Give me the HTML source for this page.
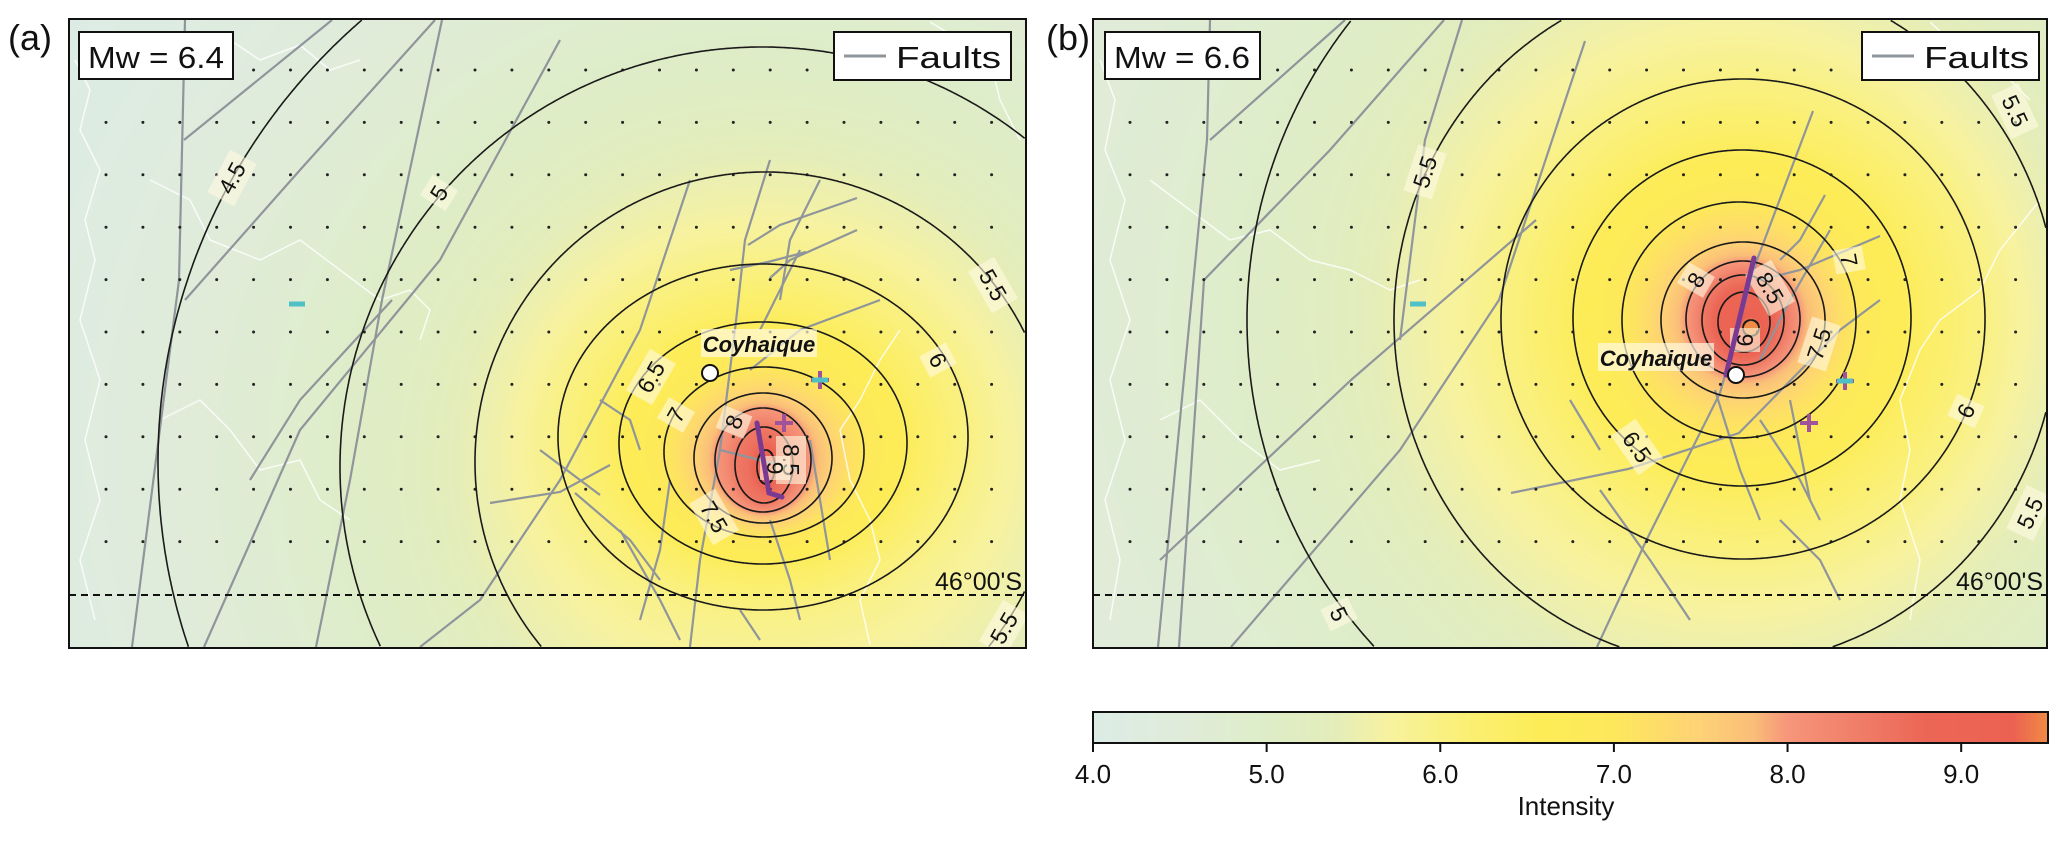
<!DOCTYPE html>
<html><head><meta charset="utf-8">
<style>
html,body{margin:0;padding:0;background:#fff;width:2067px;height:842px;overflow:hidden;}
#root{position:relative;width:2067px;height:842px;overflow:hidden;font-family:"Liberation Sans",sans-serif;}
canvas{position:absolute;display:block;}
svg{position:absolute;left:0;top:0;display:block;overflow:hidden;}
</style></head>
<body>
<div id="root">
<canvas id="cA" width="957" height="629" style="left:69px;top:19px"></canvas>
<canvas id="cB" width="954" height="629" style="left:1093px;top:19px"></canvas>
<canvas id="cbar" width="955" height="31" style="left:1093px;top:712px"></canvas>
<svg id="ov" width="2067" height="842"></svg>
</div>
<script>
// ---- data ----
const colorLevels = [4.0,4.5,5.0,5.4,5.7,6.2,6.6,7.0,7.5,7.8,8.0,8.4,8.8,9.3,9.5];
const colorRGB = [[220,236,230],[224,236,218],[222,237,200],[228,237,186],[247,242,160],[251,239,112],[253,236,86],[253,232,92],[254,210,118],[250,190,120],[246,150,122],[240,126,105],[236,102,86],[236,98,82],[240,138,69]];
const levelsA = [4.0,4.5,5.0,5.5,6.0,6.5,7.0,7.5,8.0,8.5,9.0];
const cxA = [762,762,762,765,763,763,764,763,763,764,766];
const cyA = [460,462,467,462,437,443,452,458,460,465,467];
const rxA = [850,604,422,290,205,144,100,69,48,29,9];
const ryA = [830,590,420,290,173,121,85,65,52,38,17];
const levelsB = [4.0,4.5,5.0,5.5,6.0,6.5,7.0,7.5,8.0,8.5,9.0,9.5];
const cxB = [1735,1735,1730,1726,1743,1742,1739,1743,1743,1743,1744,1751];
const cyB = [320,320,320,320,319,318,320,320,319,320,322,328];
const rxB = [1000,720,483,332,242,169,117,82,57,41,26,8];
const ryB = [980,710,483,345,240,168,118,78,58,45,30,8];
const cbarTicks = [4.0,5.0,6.0,7.0,8.0,9.0];
const cbarMin = 4.0, cbarMax = 9.5;

const NS='http://www.w3.org/2000/svg';
const ov=document.getElementById('ov');
function mk(tag,attrs,parent){const e=document.createElementNS(NS,tag);for(const k in attrs)e.setAttribute(k,attrs[k]);(parent||ov).appendChild(e);return e;}

function cmap(v){
  if(v<=colorLevels[0])return colorRGB[0];
  for(let i=1;i<colorLevels.length;i++){
    if(v<=colorLevels[i]){const t=(v-colorLevels[i-1])/(colorLevels[i]-colorLevels[i-1]);const a=colorRGB[i-1],b=colorRGB[i];return [a[0]+(b[0]-a[0])*t,a[1]+(b[1]-a[1])*t,a[2]+(b[2]-a[2])*t];}
  }
  return colorRGB[colorRGB.length-1];
}
function field(x,y,L,CX,CY,RX,RY){
  const n=L.length;const rho=[];
  for(let i=0;i<n;i++){const dx=(x-CX[i])/RX[i],dy=(y-CY[i])/RY[i];rho.push(Math.sqrt(dx*dx+dy*dy));}
  let k=-1;for(let i=0;i<n;i++){if(rho[i]<1)k=i;}
  if(k<0)return L[0];
  if(k===n-1)return L[k]+0.5*Math.min(1,1-rho[k]);
  const fi=1-rho[k],fo=rho[k+1]-1;
  return L[k]+(L[k+1]-L[k])*fi/(fi+fo);
}
function paint(id,x0,y0,L,CX,CY,RX,RY){
  const c=document.getElementById(id),ctx=c.getContext('2d');
  const W=c.width,H=c.height,img=ctx.createImageData(W,H);
  for(let j=0;j<H;j++)for(let i=0;i<W;i++){
    const v=field(x0+i,y0+j,L,CX,CY,RX,RY);const col=cmap(v);const p=(j*W+i)*4;
    img.data[p]=col[0];img.data[p+1]=col[1];img.data[p+2]=col[2];img.data[p+3]=255;}
  ctx.putImageData(img,0,0);
}
paint('cA',69,19,levelsA,cxA,cyA,rxA,ryA);
paint('cB',1093,19,levelsB,cxB,cyB,rxB,ryB);
(function(){const c=document.getElementById('cbar'),ctx=c.getContext('2d');
  for(let i=0;i<c.width;i++){const v=cbarMin+(cbarMax-cbarMin)*i/(c.width-1);const col=cmap(v);
    ctx.fillStyle='rgb('+col.map(Math.round).join(',')+')';ctx.fillRect(i,0,1,c.height);}})();

// ---- overlay ----
const defs=mk('defs',{});
const cpA=mk('clipPath',{id:'clipA'},defs);mk('rect',{x:69,y:19,width:957,height:629},cpA);
const cpB=mk('clipPath',{id:'clipB'},defs);mk('rect',{x:1093,y:19,width:954,height:629},cpB);
const boxA=[70,20,1025,647], boxB=[1094,20,2046,647];

const coastA=[
 [[75,60],[90,90],[80,130],[100,170],[85,220],[95,260],[80,320],[100,380],[85,440],[100,500],[80,560],[95,620]],
 [[150,180],[190,200],[210,240],[260,260],[300,240],[340,270],[380,300],[410,290],[430,310],[420,340]],
 [[160,420],[200,400],[230,430],[260,470],[300,460],[320,500],[350,520]],
 [[230,40],[260,60],[300,45],[330,70],[360,60]],
 [[930,22],[960,40],[990,60],[1000,100],[1020,140]],
 [[900,330],[880,360],[860,400],[840,430],[850,480],[870,520],[880,560],[860,600],[870,645]]
];
const coastB=[
 [[1100,60],[1115,100],[1105,150],[1125,200],[1110,260],[1130,320],[1110,380],[1125,440],[1105,500],[1120,560],[1110,620]],
 [[1150,180],[1190,210],[1230,240],[1270,230],[1310,260],[1350,270],[1390,290],[1420,280]],
 [[1160,420],[1200,400],[1240,440],[1280,470],[1320,460]],
 [[1930,22],[1960,50],[2000,70],[2030,100]],
 [[2040,200],[2000,250],[1980,290],[1940,320],[1920,350],[1900,400],[1910,450],[1900,500],[1920,560],[1910,620]]
];
function drawCoast(C,name){
  const g=mk('g',{});
  
  C.forEach(f=>{const p=mk('polyline',{points:f.map(q=>q.join(',')).join(' '),fill:'none',stroke:'rgba(255,255,255,0.8)','stroke-width':1.5},g);
    });
}
drawCoast(coastA,'coastlines-a');
drawCoast(coastB,'coastlines-b');

const faultsA=[
 [[185,20],[179,280],[132,647]],[[332,20],[184,140]],[[435,20],[300,170],[185,300]],
 [[442,20],[382,300],[350,480],[316,647]],[[560,40],[440,260],[300,430],[204,647]],
 [[392,300],[300,400],[250,480]],[[690,180],[640,330],[560,480],[480,600],[420,647]],
 [[770,160],[745,240],[735,330],[720,450],[700,560],[690,647]],
 [[820,180],[790,240],[780,300]],[[800,250],[775,300],[760,330]],
 [[806,252],[768,262],[730,270]],[[857,230],[790,260],[770,278]],
 [[857,198],[780,225],[748,245]],[[880,300],[800,330],[750,370]],
 [[540,450],[580,480],[600,495]],[[490,503],[560,492],[610,465]],
 [[670,480],[660,550],[640,620]],[[600,400],[630,420],[640,450]],
 [[770,520],[790,580],[800,620]],[[720,450],[760,460],[800,470]],
 [[810,440],[820,500],[830,560]],[[620,530],[660,600],[680,640]],
 [[575,493],[630,540],[660,580]],[[740,610],[760,640]]
];
const faultsB=[
 [[1210,20],[1207,140],[1158,647]],[[1345,20],[1210,140]],[[1462,20],[1425,140],[1400,340]],
 [[1444,20],[1330,150],[1204,280],[1179,647]],[[1585,41],[1499,300],[1400,450],[1231,647]],
 [[1536,220],[1351,380],[1160,560]],[[1813,111],[1757,260],[1720,393],[1646,541],[1597,647]],
 [[1825,195],[1800,240],[1780,260]],[[1880,236],[1800,270],[1760,280]],
 [[1830,230],[1790,300],[1760,360]],[[1511,493],[1628,469],[1739,433],[1840,330],[1880,300]],
 [[1715,390],[1740,470],[1760,520]],[[1760,420],[1800,480],[1820,520]],
 [[1570,400],[1600,450]],[[1600,490],[1650,560],[1690,620]],
 [[1790,400],[1800,450],[1810,500]],[[1780,520],[1820,560],[1840,600]]
];
function drawFaults(F,name){
  const g=mk('g',{});
  
  F.forEach(f=>{const p=mk('polyline',{points:f.map(q=>q.join(',')).join(' '),fill:'none',stroke:'#8f959b','stroke-width':2.2},g);
    });
}
drawFaults(faultsA,'faults-a');
drawFaults(faultsB,'faults-b');

function dots(x0,x1,name){
  const g=mk('g',{});
  
  for(let r=0;r<10;r++)for(let x=x0;x<x1;x+=36.9){mk('circle',{cx:x.toFixed(1),cy:(70+52.4*r).toFixed(1),r:1.5,fill:'#222'},g);}
}
dots(106,1024,'grid-points-a');
dots(1130,2045,'grid-points-b');

function contours(L,CX,CY,RX,RY,B,name){
  const g=mk('g',{});
  
  for(let i=1;i<L.length;i++){
    const segs=[];let cur=[];
    const N=1440;
    for(let k=0;k<=N;k++){
      const a=2*Math.PI*k/N;const x=CX[i]+RX[i]*Math.cos(a),y=CY[i]+RY[i]*Math.sin(a);
      if(x>=B[0]&&x<=B[2]&&y>=B[1]&&y<=B[3]){cur.push(x.toFixed(1)+','+y.toFixed(1));}
      else{if(cur.length>1)segs.push(cur);cur=[];}
    }
    if(cur.length>1)segs.push(cur);
    segs.forEach(s=>{const e=mk('polyline',{points:s.join(' '),fill:'none',stroke:'#1a1a1a','stroke-width':1.6},g);
      });
  }
}
contours(levelsA,cxA,cyA,rxA,ryA,boxA,'contours-a');
contours(levelsB,cxB,cyB,rxB,ryB,boxB,'contours-b');

[[69,1026],[1093,2047]].forEach(p=>{const l=mk('line',{x1:p[0],x2:p[1],y1:595,y2:595,stroke:'#111','stroke-width':2,'stroke-dasharray':'7,5'});
  });
[[1022],[2043]].forEach(p=>{const t=mk('text',{x:p[0],y:590,'text-anchor':'end','font-size':25,fill:'#111'});t.textContent="46°00'S";
  });

const labA=[['4.5',232,178,-62],['5',439,193,-58],['5.5',993,285,60],['6',938,360,62],['6.5',651,377,-60],['7',676,415,-60],['8',734,422,-68],['8.5',791,460,90],['9',775,468,90],['7.5',714,517,60],['5.5',1004,628,-60]];
const labB=[['5.5',1425,172,-72],['5.5',2015,111,65],['5.5',2030,513,-65],['5',1339,614,65],['6',1966,411,-65],['6.5',1637,447,55],['7',1849,260,80],['7.5',1819,344,-72],['8',1696,280,-60],['8.5',1770,288,60],['9',1745,340,90]];
function clabels(arr,clip){
  const g=mk('g',{'clip-path':'url(#'+clip+')'});
  arr.forEach(a=>{const gg=mk('g',{transform:'translate('+a[1]+','+a[2]+') rotate('+a[3]+')'},g);
    
    const w=a[0].length*12+12;
    mk('rect',{x:-w/2,y:-15,width:w,height:30,fill:'rgba(255,250,225,0.6)'},gg);
    const t=mk('text',{x:0,y:8,'text-anchor':'middle','font-size':23,fill:'#111'},gg);t.textContent=a[0];});
}
clabels(labA,'clipA');clabels(labB,'clipB');

function rupture(pts,name){const p=mk('polyline',{points:pts,fill:'none',stroke:'#7b3a92','stroke-width':5,'stroke-linecap':'round'});
  }
rupture('757,423 769,493 782,497','rupture-a');
rupture('1754,258 1726,375','rupture-b');
function city(x,y,lx,ly,name){
  const g=mk('g',{});
  mk('rect',{x:lx-58,y:ly-15,width:116,height:28,fill:'rgba(255,250,225,0.7)'},g);
  const t=mk('text',{x:lx,y:ly+8,'text-anchor':'middle','font-size':22,'font-weight':'bold','font-style':'italic',fill:'#111'},g);t.textContent='Coyhaique';
  mk('circle',{cx:x,cy:y,r:8,fill:'#fff',stroke:'#111','stroke-width':2},g);
}
city(710,373,759,344,'coyhaique-a');
city(1736,375,1656,358,'coyhaique-b');
function plus(x,y,c,name){const g=mk('g',{});
  mk('line',{x1:x-9,x2:x+9,y1:y,y2:y,stroke:c,'stroke-width':4},g);mk('line',{x1:x,x2:x,y1:y-9,y2:y+9,stroke:c,'stroke-width':4},g);}
function minus(x,y,name){const l=mk('line',{x1:x-8,x2:x+8,y1:y,y2:y,stroke:'#4fc0c4','stroke-width':5});}
plus(820,380,'#a0529a','station-plus-a1');minus(820,380,'station-minus-a1');
plus(784,423,'#a0529a','station-plus-a2');
minus(297,304,'station-minus-a2');
plus(1845,381,'#a0529a','station-plus-b1');minus(1845,381,'station-minus-b1');
plus(1809,423,'#a0529a','station-plus-b2');
minus(1418,304,'station-minus-b2');

[[69,19,957,629,'panel-a-frame'],[1093,19,954,629,'panel-b-frame']].forEach(f=>{const r=mk('rect',{x:f[0],y:f[1],width:f[2],height:f[3],fill:'none',stroke:'#111','stroke-width':2});
  });

function box(x,y,w,h,name){const r=mk('rect',{x:x,y:y,width:w,height:h,fill:'#fff',stroke:'#111','stroke-width':2});}
box(79,32,154,47,'magnitude-box-a');box(1105,32,155,47,'magnitude-box-b');
[['Mw = 6.4',156],['Mw = 6.6',1182]].forEach(m=>{const t=mk('text',{x:m[1],y:68,'text-anchor':'middle','font-size':31,fill:'#111',textLength:136,lengthAdjust:'spacingAndGlyphs'});t.textContent=m[0];
  });
[[834,'legend-a'],[1862,'legend-b']].forEach(l=>{
  const g=mk('g',{});
  mk('rect',{x:l[0],y:32,width:177,height:48,fill:'#fff',stroke:'#111','stroke-width':2},g);
  const ln=mk('line',{x1:l[0]+10,x2:l[0]+52,y1:56,y2:56,stroke:'#8f959b','stroke-width':3},g);
  
  const t=mk('text',{x:l[0]+62,y:68,'font-size':31,fill:'#111',textLength:105,lengthAdjust:'spacingAndGlyphs'},g);t.textContent='Faults';
  });
[['(a)',8],['(b)',1046]].forEach(p=>{const t=mk('text',{x:p[1],y:50,'font-size':36,fill:'#111'});t.textContent=p[0];
  });

const cbx=v=>1093+(v-cbarMin)/(cbarMax-cbarMin)*955;
const cbf=mk('rect',{x:1093,y:712,width:955,height:31,fill:'none',stroke:'#111','stroke-width':2});

cbarTicks.forEach(v=>{const x=cbx(v);
  const l=mk('line',{x1:x,x2:x,y1:743,y2:752,stroke:'#111','stroke-width':2});
  const t=mk('text',{x:x,y:783,'text-anchor':'middle','font-size':26,fill:'#111'});t.textContent=v.toFixed(1);
  });
const it=mk('text',{x:1566,y:815,'text-anchor':'middle','font-size':26,fill:'#111'});it.textContent='Intensity';

</script>
</body></html>
